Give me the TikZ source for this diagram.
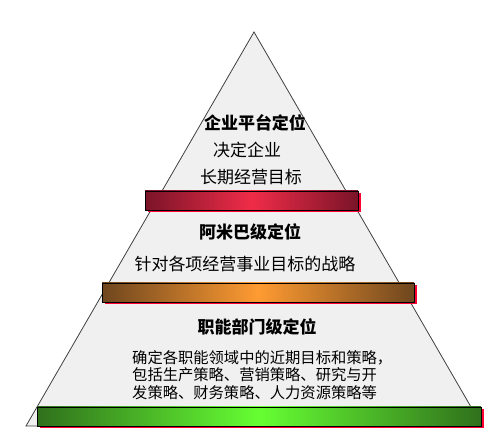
\documentclass[tikz,border=0pt]{standalone}
\usepackage{fontspec}
\setmainfont{Noto Sans CJK SC}
\usepackage{tikz}
\usetikzlibrary{shadows}

\definecolor{pyrfill}{HTML}{F0F0F0}
\definecolor{pyrline}{HTML}{404040}
\definecolor{shadowred}{HTML}{FF0033}

\begin{document}
\begin{tikzpicture}[
		x=1pt, y=1pt,
		every node/.style={inner sep=0pt},
		bar/.style={rectangle, draw=black, line width=0.8pt, minimum height=19pt,
			drop shadow={shadow xshift=2.5pt, shadow yshift=-2.5pt, fill=shadowred, opacity=1}},
		title/.style={font=\bfseries\fontsize{17}{19}\selectfont},
		body/.style={font=\fontsize{17}{19}\selectfont}
	]
  \useasboundingbox (0, 0) rectangle (499, 444);
  \coordinate (apex) at (254, 412);
  \coordinate (left) at (26, 18);
  \coordinate (right) at (482, 18);
  \draw [fill=pyrfill, draw=pyrline, line width=0.8pt] (apex) -- (left) -- (right) -- cycle;
  % bars
  \node (bar1) [bar, minimum width=213pt, left color={rgb,255:red,122;green,20;blue,40}, right color={rgb,255:red,122;green,20;blue,40}, middle color={rgb,255:red,240;green,44;blue,72}] at (251.5, 243.5) {};
  \node (bar2) [bar, minimum width=312pt, left color={rgb,255:red,110;green,70;blue,30}, right color={rgb,255:red,110;green,70;blue,30}, middle color={rgb,255:red,255;green,155;blue,50}] at (258, 151.5) {};
  \node (bar3) [bar, minimum width=444pt, left color={rgb,255:red,48;green,112;blue,28}, right color={rgb,255:red,48;green,112;blue,28}, middle color={rgb,255:red,102;green,255;blue,51}] at (259, 27.5) {};
  % texts
  \node (t1) [title] at (255, 321) {企业平台定位};
  \node (t1a) [body] at (247, 294) {决定企业};
  \node (t1b) [body] at (251, 267) {长期经营目标};
  \node (t2) [title] at (250, 212) {阿米巴级定位};
  \node (t2a) [body] at (245, 180) {针对各项经营事业目标的战略};
  \node (t3) [title] at (257, 117) {职能部门级定位};
  \node (t3a) [anchor=west, align=left, font=\fontsize{15.3}{17.5}\selectfont] at (132, 69) {确定各职能领域中的近期目标和策略，\\包括生产策略、营销策略、研究与开\\发策略、财务策略、人力资源策略等};
\end{tikzpicture}
\end{document}
